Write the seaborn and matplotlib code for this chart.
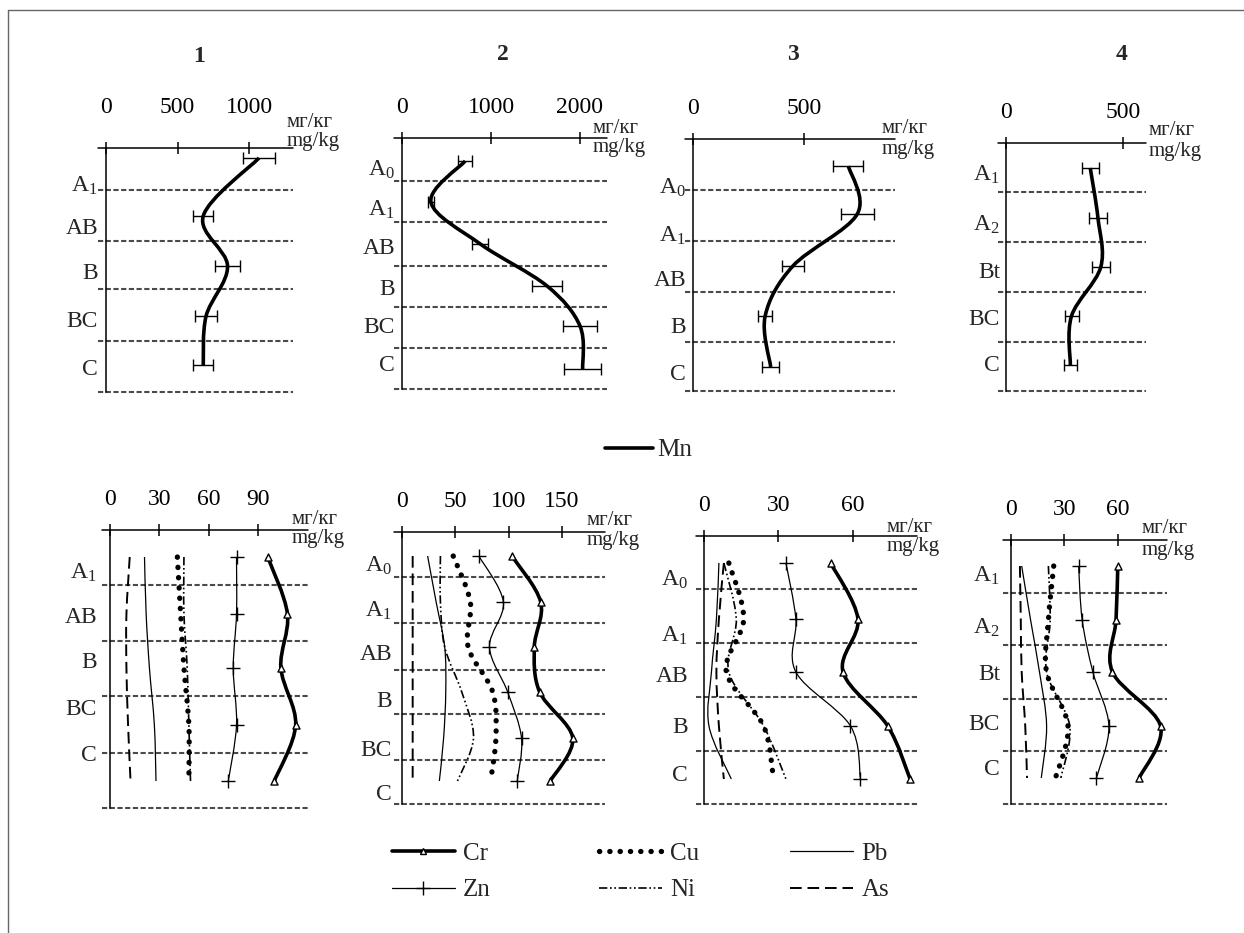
import numpy as np
import pandas as pd
import seaborn as sns
import matplotlib.pyplot as plt
from matplotlib.path import Path
from matplotlib.patches import PathPatch
from matplotlib.lines import Line2D

# ---------------------------------------------------------------------------
# Data: concentrations in mg/kg, depth in relative units down the profile
# ---------------------------------------------------------------------------
A0 = r"$\mathregular{A_0}$"
A1 = r"$\mathregular{A_1}$"
A2 = r"$\mathregular{A_2}$"

# --- top row: Mn with error bars ---
t1_horizons = [A1, "AB", "B", "BC", "C"]
t1_bounds = [0, 42, 93, 141, 193, 244]
t1_label_at = [35, 78, 123, 171, 219]
t1_depth = [10, 68, 118, 168, 217]
t1_mn = [1070, 680, 850, 700, 680]
t1_err = [110, 70, 85, 75, 70]

t2_horizons = [A0, A1, "AB", "B", "BC", "C"]
t2_bounds = [0, 43, 84, 128, 169, 210, 251]
t2_label_at = [29, 69, 108, 149, 187, 225]
t2_depth = [23, 64, 106, 148, 188, 231]
t2_mn = [710, 325, 880, 1630, 2000, 2030]
t2_err = [80, 35, 90, 165, 190, 210]

t3_horizons = [A0, A1, "AB", "B", "C"]
t3_bounds = [0, 51, 102, 153, 203, 252]
t3_label_at = [46, 94, 139, 186, 233]
t3_depth = [27, 75, 127, 177, 228]
t3_mn = [700, 740, 450, 325, 350]
t3_err = [68, 75, 48, 33, 37]

t4_horizons = [A1, A2, "Bt", "BC", "C"]
t4_bounds = [0, 49, 99, 149, 199, 248]
t4_label_at = [29, 79, 127, 174, 220]
t4_depth = [25, 75, 124, 173, 222]
t4_mn = [360, 393, 405, 280, 275]
t4_err = [37, 38, 38, 30, 28]

# --- bottom row: trace elements ---
b1_horizons = [A1, "AB", "B", "BC", "C"]
b1_bounds = [0, 55, 111, 166, 223, 278]
b1_label_at = [40, 85, 130, 177, 223]
b1_depth = [27, 84, 138, 195, 251]
b1_cr = [96, 108, 104, 113, 100]
b1_zn = [77, 77, 75, 77, 72]
b1_cu = [41, 43, 45, 48, 48]
b1_ni = [45, 45, 47, 48, 49]
b1_pb = [21, 22, 24, 27, 28]
b1_as = [12, 10, 10, 11, 12.5]

b2_horizons = [A0, A1, "AB", "B", "BC", "C"]
b2_bounds = [0, 45, 91, 138, 182, 228, 272]
b2_label_at = [31, 76, 120, 167, 216, 260]
b2_depth = [24, 70, 115, 160, 206, 249]
b2_cr = [103, 130, 124, 129, 160, 139]
b2_zn = [72, 95, 82, 99, 112, 108]
b2_cu = [48, 64, 62, 85, 88, 83]
b2_ni = [36, 36, 40, 56, 67, 52]
b2_pb = [24, 32, 40, 41, 39, 35]
b2_as = [10, 10, 10, 10, 10, 10]

b3_horizons = [A0, A1, "AB", "B", "C"]
b3_bounds = [0, 53, 107, 161, 215, 268]
b3_label_at = [41, 97, 138, 189, 237]
b3_depth = [27, 83, 136, 190, 243]
b3_cr = [51, 62, 56, 74, 83]
b3_zn = [33, 37, 37, 59, 63]
b3_cu = [10, 16, 9, 24, 28]
b3_ni = [8, 13, 10, 24, 33]
b3_pb = [6, 5, 3, 2, 11]
b3_as = [8, 6, 5, 6, 8]

b4_horizons = [A1, A2, "Bt", "BC", "C"]
b4_bounds = [0, 53, 105, 159, 211, 264]
b4_label_at = [33, 85, 132, 182, 227]
b4_depth = [26, 80, 132, 186, 238]
b4_cr = [60, 59, 57, 84, 72]
b4_zn = [38, 40, 46, 55, 48]
b4_cu = [24, 21, 20, 32, 25]
b4_ni = [21, 22, 20, 33, 28]
b4_pb = [6, 11, 16, 20, 17]
b4_as = [5, 5.5, 6, 8, 9]

top_ticks = [[0, 500, 1000], [0, 1000, 2000], [0, 500], [0, 500]]
bottom_ticks = [[0, 30, 60, 90], [0, 50, 100, 150], [0, 30, 60], [0, 30, 60]]
element_names = ["Cr", "Zn", "Cu", "Ni", "Pb", "As"]

# ---------------------------------------------------------------------------
# Layout (pixels on a 1244 x 933 canvas)
# ---------------------------------------------------------------------------
W, H = 1244, 933
# left, right, top, bottom, px per mg/kg
top_boxes = [(106, 293, 148, 392, 0.143), (402, 607, 138, 389, 0.089),
             (693, 895, 139, 391, 0.222), (1006, 1146, 143, 391, 0.234)]
bottom_boxes = [(110, 308, 530, 808, 1.643), (402, 605, 532, 804, 1.067),
                (704, 917, 536, 804, 2.483), (1011, 1167, 540, 804, 1.78)]
top_label_dx = [-8, -7, -7, -6]
bottom_label_dx = [-13, -10, -16, -11]
top_tick_pad = [17, 10, 10, 10]
bottom_tick_pad = [10, 10, 10, 10]
top_units = [(287, 127, 146), (593, 133, 152), (882, 133, 154), (1149, 135, 156)]
bottom_units = [(292, 524, 543), (587, 525, 545), (887, 532, 551), (1142, 533, 555)]
panel_titles = [("1", 199, 57), ("2", 503, 55), ("3", 793, 55), ("4", 1122, 55)]

SERIF = ["Liberation Serif", "DejaVu Serif"]
sns.set_theme(style="white")
plt.rcParams["font.family"] = SERIF

curve_style = {
    "Cr": dict(color="black", lw=2.6),
    "Zn": dict(color="black", lw=0.9),
    "Cu": dict(color="black", lw=3.8, ls=(0, (0.05, 1.9)), cap="round"),
    "Ni": dict(color="black", lw=1.2, ls=(0, (5, 1.6, 1, 1.6, 1, 1.6))),
    "Pb": dict(color="black", lw=0.9),
    "As": dict(color="black", lw=1.4, ls=(0, (6, 3))),
}


def fx(px):
    return px / W


def fy(py):
    return 1 - py / H


def smooth_path(x, y):
    # Catmull-Rom spline through the measured points, as cubic Bezier segments
    pts = np.column_stack([x, y]).astype(float)
    ext = np.vstack([pts[0], pts, pts[-1]])
    verts, codes = [pts[0]], [Path.MOVETO]
    for i in range(len(pts) - 1):
        p0, p1, p2, p3 = ext[i], ext[i + 1], ext[i + 2], ext[i + 3]
        verts += [p1 + (p2 - p0) / 6, p2 - (p3 - p1) / 6, p2]
        codes += [Path.CURVE4] * 3
    return Path(verts, codes)


def draw_curve(ax, x, y, color, lw, ls="-", cap="butt", zorder=3):
    patch = PathPatch(smooth_path(x, y), fill=False, edgecolor=color, lw=lw,
                      linestyle=ls, capstyle=cap, zorder=zorder)
    ax.add_patch(patch)


def legend_handle(name):
    st = curve_style[name]
    kw = dict(color=st["color"], lw=st["lw"], linestyle=st.get("ls", "-"),
              dash_capstyle=st.get("cap", "butt"))
    if name == "Cr":
        kw.update(marker="^", markersize=5, markerfacecolor="white", markeredgecolor="black", markeredgewidth=1)
    if name == "Zn":
        kw.update(marker="+", markersize=10, markeredgewidth=1)
    return Line2D([], [], **kw)


def make_axes(fig, box):
    left, right, top, bottom, _ = box
    ax = fig.add_axes([fx(left), fy(bottom), (right - left) / W, (bottom - top) / H])
    ax.set_facecolor("none")
    return ax


def dress_panel(ax, box, ticks, bounds, labels, label_at, label_dx, tick_pad, units):
    left, right, top, bottom, scale = box
    ax.set_xlim(0, (right - left) / scale)
    ax.set_ylim(bounds[-1], 0)
    for s in ("top", "right", "bottom"):
        ax.spines[s].set_visible(False)
    ax.spines["left"].set_color("black")
    ax.spines["left"].set_linewidth(1.1)
    ext = -8 / (right - left)
    ax.axhline(0, xmin=ext, xmax=1, color="black", lw=1.1, clip_on=False, zorder=2)
    for b in bounds[1:]:
        ax.axhline(b, xmin=ext, xmax=1, color="#4a4a4a", lw=1.5,
                   ls=(0, (2.5, 1.2)), clip_on=False, zorder=1)
    ax.xaxis.tick_top()
    ax.set_xticks(ticks)
    ax.set_xticklabels([str(t) for t in ticks])
    ax.tick_params(axis="x", direction="inout", length=9, width=1.1, pad=tick_pad,
                   labelsize=17, colors="black")
    ax.set_yticks([])
    ax.set_xlabel("")
    ax.set_ylabel("")
    ax.grid(False)
    for lbl, d in zip(labels, label_at):
        ax.annotate(lbl, xy=(0, d), xycoords=("axes fraction", "data"),
                    xytext=(label_dx, 0), textcoords="offset pixels",
                    ha="right", va="center_baseline", fontsize=17)
    ux, uy1, uy2 = units
    fig.text(fx(ux), fy(uy1), "мг/кг", fontsize=15, ha="left", va="baseline")
    fig.text(fx(ux), fy(uy2), "mg/kg", fontsize=15, ha="left", va="baseline")


fig = plt.figure(figsize=(W / 100, H / 100), dpi=100)

# ---------------- top row: Mn ----------------
top_sets = [
    (t1_horizons, t1_bounds, t1_label_at, t1_depth, t1_mn, t1_err),
    (t2_horizons, t2_bounds, t2_label_at, t2_depth, t2_mn, t2_err),
    (t3_horizons, t3_bounds, t3_label_at, t3_depth, t3_mn, t3_err),
    (t4_horizons, t4_bounds, t4_label_at, t4_depth, t4_mn, t4_err),
]
for i, (hz, bounds, lab_at, depth, mn, err) in enumerate(top_sets):
    ax = make_axes(fig, top_boxes[i])
    df = pd.DataFrame({"Mn": mn, "depth": depth})
    draw_curve(ax, df["Mn"], df["depth"], color="black", lw=2.6)
    ax.errorbar(df["Mn"], df["depth"], xerr=err, fmt="none", ecolor="black",
                elinewidth=1.0, capsize=4.5, capthick=1.0, zorder=4)
    dress_panel(ax, top_boxes[i], top_ticks[i], bounds, hz, lab_at,
                top_label_dx[i], top_tick_pad[i], top_units[i])

# ---------------- bottom row: Cr, Zn, Cu, Ni, Pb, As ----------------
bottom_sets = [
    (b1_horizons, b1_bounds, b1_label_at, b1_depth, [b1_cr, b1_zn, b1_cu, b1_ni, b1_pb, b1_as]),
    (b2_horizons, b2_bounds, b2_label_at, b2_depth, [b2_cr, b2_zn, b2_cu, b2_ni, b2_pb, b2_as]),
    (b3_horizons, b3_bounds, b3_label_at, b3_depth, [b3_cr, b3_zn, b3_cu, b3_ni, b3_pb, b3_as]),
    (b4_horizons, b4_bounds, b4_label_at, b4_depth, [b4_cr, b4_zn, b4_cu, b4_ni, b4_pb, b4_as]),
]
for i, (hz, bounds, lab_at, depth, series) in enumerate(bottom_sets):
    ax = make_axes(fig, bottom_boxes[i])
    df = pd.DataFrame(dict(zip(element_names, series)))
    df["depth"] = depth
    for name in element_names[::-1]:
        st = curve_style[name]
        draw_curve(ax, df[name], df["depth"], color=st["color"], lw=st["lw"],
                   ls=st.get("ls", "-"), cap=st.get("cap", "butt"))
    sns.scatterplot(data=df, x="Cr", y="depth", marker="^", s=26, color="white",
                    edgecolor="black", linewidth=1.0, ax=ax, zorder=5, legend=False)
    sns.scatterplot(data=df, x="Zn", y="depth", marker="+", s=90, color="black",
                    linewidth=1.0, ax=ax, zorder=5, legend=False)
    dress_panel(ax, bottom_boxes[i], bottom_ticks[i], bounds, hz, lab_at,
                bottom_label_dx[i], bottom_tick_pad[i], bottom_units[i])

# ---------------- titles, legends, frame ----------------
for txt, x, y in panel_titles:
    fig.text(fx(x), fy(y), txt, fontsize=17, fontweight="bold", ha="center", va="center")

fig.legend(handles=[Line2D([], [], color="black", lw=2.6)], labels=["Mn"],
           loc="center left", bbox_to_anchor=(fx(605), fy(450)), frameon=False,
           fontsize=18, handlelength=1.9, handletextpad=0.2, borderpad=0, borderaxespad=0)

legend_cols = [(["Cr", "Zn"], 392), (["Cu", "Ni"], 599), (["Pb", "As"], 790)]
for names, x0 in legend_cols:
    fig.legend(handles=[legend_handle(n) for n in names], labels=names,
               loc="center left", bbox_to_anchor=(fx(x0), fy(872)), frameon=False,
               fontsize=18, handlelength=2.5, handletextpad=0.35, labelspacing=0.55,
               borderpad=0, borderaxespad=0, numpoints=1)

fig.add_artist(Line2D([fx(8), fx(8)], [0, fy(10)], transform=fig.transFigure, color="#666666", lw=1.0))
fig.add_artist(Line2D([fx(8), 1], [fy(10), fy(10)], transform=fig.transFigure, color="#666666", lw=1.0))

fig.savefig("out.png", dpi=100)
